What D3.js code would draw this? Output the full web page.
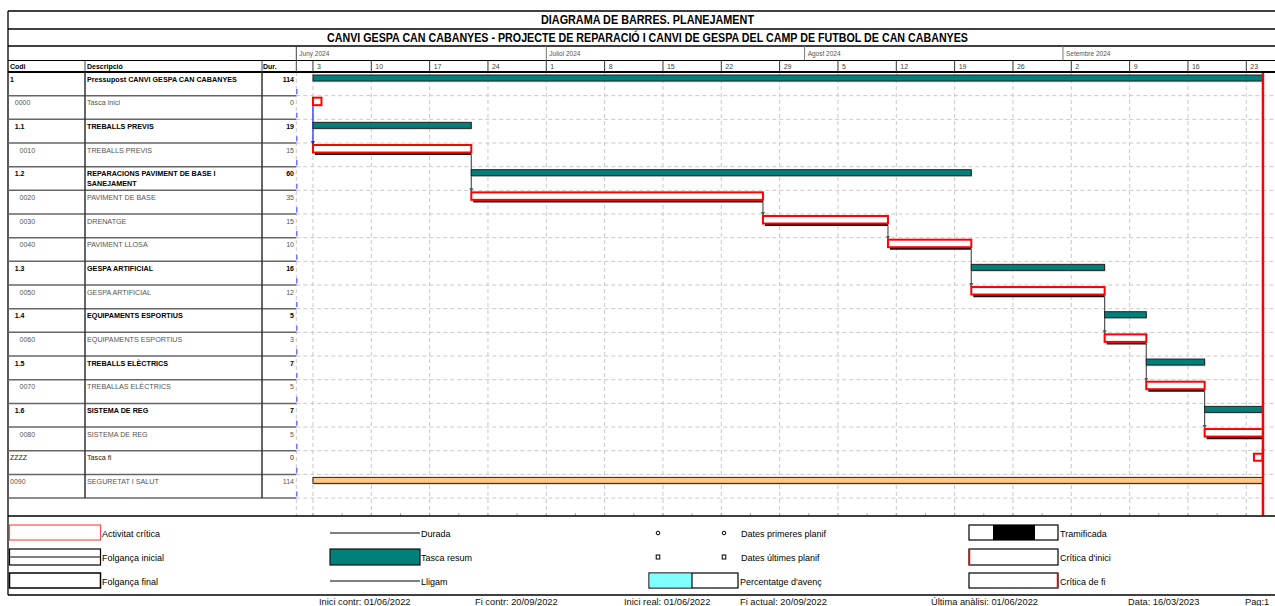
<!DOCTYPE html>
<html><head><meta charset="utf-8">
<script src="https://cdn.jsdelivr.net/npm/d3@7"></script>
<style>
body{margin:0;background:#fff}
svg{display:block}
text{font-family:"Liberation Sans",Arial,sans-serif}
</style>
</head><body>
<svg id="c" width="1275" height="606"></svg>
<script>
// ---------------- DATA ----------------
const codes = ["1","0000","1.1","0010","1.2","0020","0030","0040","1.3","0050","1.4","0060","1.5","0070","1.6","0080","ZZZZ","0090"];
const descriptions = [
  ["Pressupost CANVI GESPA CAN CABANYES"],
  ["Tasca inici"],
  ["TREBALLS PREVIS"],
  ["TREBALLS PREVIS"],
  ["REPARACIONS PAVIMENT DE BASE I","SANEJAMENT"],
  ["PAVIMENT DE BASE"],
  ["DRENATGE"],
  ["PAVIMENT LLOSA"],
  ["GESPA ARTIFICIAL"],
  ["GESPA ARTIFICIAL"],
  ["EQUIPAMENTS ESPORTIUS"],
  ["EQUIPAMENTS ESPORTIUS"],
  ["TREBALLS ELÈCTRICS"],
  ["TREBALLAS ELÈCTRICS"],
  ["SISTEMA DE REG"],
  ["SISTEMA DE REG"],
  ["Tasca fi"],
  ["SEGURETAT I SALUT"]
];
const durations = [114,0,19,15,60,35,15,10,16,12,5,3,7,5,7,5,0,114];
const kinds = ["summary","startMilestone","summary","task","summary","task","task","task","summary","task","summary","task","summary","task","summary","task","endMilestone","other"];
const outlineLevels = [0,1,1,2,1,2,2,2,1,2,1,2,1,2,1,2,0,0];
const startDates = ["2024-06-03","2024-06-03","2024-06-03","2024-06-03","2024-06-22","2024-06-22","2024-07-27","2024-08-11","2024-08-21","2024-08-21","2024-09-06","2024-09-06","2024-09-11","2024-09-11","2024-09-18","2024-09-18","2024-09-25","2024-06-03"];
const endDates   = ["2024-09-25","2024-06-03","2024-06-22","2024-06-22","2024-08-21","2024-07-27","2024-08-11","2024-08-21","2024-09-06","2024-09-06","2024-09-11","2024-09-11","2024-09-18","2024-09-18","2024-09-25","2024-09-25","2024-09-25","2024-09-25"];
const links = [[1,3],[3,5],[5,6],[6,7],[7,9],[9,11],[11,13],[13,15],[15,16]];
const monthLabels = ["Juny 2024","Juliol 2024","Agost 2024","Setembre 2024"];
const monthStarts = ["2024-06-01","2024-07-01","2024-08-01","2024-09-01"];
const weekTicks = ["2024-06-03","2024-06-10","2024-06-17","2024-06-24","2024-07-01","2024-07-08","2024-07-15","2024-07-22","2024-07-29","2024-08-05","2024-08-12","2024-08-19","2024-08-26","2024-09-02","2024-09-09","2024-09-16","2024-09-23"];
const weekLabels = ["3","10","17","24","1","8","15","22","29","5","12","19","26","2","9","16","23"];
const projectEnd = "2024-09-25";
const footerTexts = [["Inici contr: 01/06/2022",319],["Fi contr: 20/09/2022",475],["Inici real: 01/06/2022",624],["Fi actual: 20/09/2022",740],["Última anàlisi: 01/06/2022",931],["Data: 16/03/2023",1128],["Pag:1",1245]];

// ---------------- LAYOUT ----------------
const svg = d3.select("#c");
const W = 1275;
const L = 8;
const parse = d3.utcParse("%Y-%m-%d");
const chartX0 = 296.3, pxDay = 8.3333;
const x = d3.scaleUtc().domain([parse("2024-06-01"), parse("2024-09-28")]).range([chartX0, chartX0 + 119*pxDay]);
const rowTop0 = 72, rowH = 23.67, nRows = codes.length;
const yRow = d3.scaleLinear().domain([0, nRows]).range([rowTop0, rowTop0 + nRows*rowH]);
const chartBottom = 516;
const colCodeEnd = 85, colDescEnd = 262;

const g = svg.append("g");

// ---------------- GRID ----------------
const grid = g.append("g");
grid.selectAll("line.h").data(d3.range(1, nRows+1)).join("line")
  .attr("x1", chartX0).attr("x2", W)
  .attr("y1", d=>yRow(d)).attr("y2", d=>yRow(d))
  .attr("stroke","#c8c8c8").attr("stroke-dasharray","4,3").attr("stroke-width",1);
grid.selectAll("line.v").data([ "2024-06-01", ...weekTicks]).join("line")
  .attr("x1", d=>x(parse(d))).attr("x2", d=>x(parse(d)))
  .attr("y1", rowTop0).attr("y2", chartBottom)
  .attr("stroke","#c8c8c8").attr("stroke-dasharray","4,3").attr("stroke-width",1);
g.append("line").attr("x1", chartX0+0.5).attr("x2", chartX0+0.5)
  .attr("y1", rowTop0+17).attr("y2", chartBottom)
  .attr("stroke","#7070ff").attr("stroke-width",1.5).attr("stroke-dasharray","5,18.67");
const halfWeeks = [];
weekTicks.forEach(d=>{ const t=parse(d); halfWeeks.push(t); halfWeeks.push(d3.utcHour.offset(t, 84)); });
g.selectAll("line.bt").data(halfWeeks).join("line")
  .attr("x1", d=>x(d)).attr("x2", d=>x(d)).attr("y1", chartBottom-3).attr("y2", chartBottom)
  .attr("stroke","#aaa").attr("stroke-width",1);

// ---------------- HEADER ----------------
const hdr = g.append("g");
const hl = (x1,y1,x2,y2,w,c)=>hdr.append("line").attr("x1",x1).attr("y1",y1).attr("x2",x2).attr("y2",y2).attr("stroke",c||"#000").attr("stroke-width",w||1);
hl(L,11,W,11,1.3); hl(L,29,W,29,1.3); hl(L,46,W,46,1.3); hl(L,60.5,W,60.5,1); hl(L,72,W,72,2);
hl(L,11,L,595,1.3);
hl(chartX0,46,chartX0,72,1,"#444");
hl(colCodeEnd,60.5,colCodeEnd,72,1,"#444"); hl(colDescEnd,60.5,colDescEnd,72,1,"#444");
hdr.append("text").attr("x",647.5).attr("y",23.5).attr("text-anchor","middle")
  .attr("font-size",12).attr("font-weight","bold").attr("textLength",213).attr("lengthAdjust","spacingAndGlyphs")
  .text("DIAGRAMA DE BARRES. PLANEJAMENT");
hdr.append("text").attr("x",647.5).attr("y",41.5).attr("text-anchor","middle")
  .attr("font-size",12).attr("font-weight","bold").attr("textLength",641).attr("lengthAdjust","spacingAndGlyphs")
  .text("CANVI GESPA CAN CABANYES - PROJECTE DE REPARACIÓ I CANVI DE GESPA DEL CAMP DE FUTBOL DE CAN CABANYES");
monthStarts.forEach((m,i)=>{
  const mx = x(parse(m));
  if(i>0) hl(mx,46,mx,60.5,1,"#777");
  hdr.append("text").attr("x", mx+3).attr("y",56).attr("font-size",6.5).attr("fill","#555").text(monthLabels[i]);
});
weekTicks.forEach((w,i)=>{
  const wx = x(parse(w));
  hl(wx,60.5,wx,72,1,"#333");
  hdr.append("text").attr("x", wx+4).attr("y",69).attr("font-size",7).attr("fill","#444").text(weekLabels[i]);
});
[["Codi",10],["Descripció",87],["Dur.",263]].forEach(([t,tx])=>{
  hdr.append("text").attr("x",tx).attr("y",69).attr("font-size",7).attr("font-weight","bold").text(t);
});

// ---------------- TABLE ----------------
const tbl = g.append("g");
tbl.selectAll("line.r").data(d3.range(1, nRows+1)).join("line")
  .attr("x1", L).attr("x2", chartX0).attr("y1", d=>yRow(d)).attr("y2", d=>yRow(d))
  .attr("stroke","#666").attr("stroke-width",1.5);
[colCodeEnd, colDescEnd].forEach(cx=>{
  tbl.append("line").attr("x1",cx).attr("x2",cx).attr("y1",rowTop0).attr("y2",yRow(nRows))
    .attr("stroke","#333").attr("stroke-width",1.5);
});
codes.forEach((c,i)=>{
  const top = yRow(i);
  const isSum = kinds[i]==="summary" || i===0;
  const col = isSum ? "#000" : (kinds[i]==="endMilestone" ? "#222" : "#555");
  const fw = isSum ? "bold" : "normal";
  tbl.append("text").attr("x", 10 + outlineLevels[i]*4.75).attr("y", top+9.5)
    .attr("font-size",7).attr("font-weight",fw).attr("fill",col).text(c);
  descriptions[i].forEach((line,j)=>{
    tbl.append("text").attr("x",87).attr("y", top+9.5+j*10).attr("font-size",7.2)
      .attr("font-weight",fw).attr("fill",col).text(line);
  });
  tbl.append("text").attr("x",294).attr("y", top+9.5).attr("text-anchor","end")
    .attr("font-size",7).attr("font-weight",fw).attr("fill",col).text(durations[i]);
});

// ---------------- BARS ----------------
const bars = g.append("g");
const rows = codes.map((c,i)=>({i, kind:kinds[i], s:parse(startDates[i]), e:parse(endDates[i]), top:yRow(i)}));
const defs = svg.append("defs");
links.forEach(([a,b])=>{
  const ra = rows[a], rb = rows[b];
  const lx = ra.kind==="startMilestone" ? x(ra.s) : x(ra.e);
  const blue = ra.kind==="startMilestone";
  const col = blue ? "#2020ff" : "#555";
  const id = "m"+a;
  defs.append("marker").attr("id",id).attr("viewBox","0 0 6 6").attr("refX",3).attr("refY",6)
    .attr("markerWidth",5).attr("markerHeight",4).attr("orient","0").attr("markerUnits","userSpaceOnUse")
    .append("path").attr("d","M0,0L6,0L3,6Z").attr("fill",col);
  bars.append("line").attr("x1",lx).attr("x2",lx).attr("y1", ra.top + (ra.kind==="startMilestone"?10:11.5)).attr("y2", rb.top+2)
    .attr("stroke",col).attr("stroke-width",1.2).attr("marker-end",`url(#${id})`);
});
rows.forEach(r=>{
  const x0 = x(r.s), x1 = x(r.e);
  if(r.kind==="summary" || r.kind==="other"){
    bars.append("rect").attr("x",x0).attr("y",r.top+3.5).attr("width",x1-x0).attr("height",6)
      .attr("fill","#9a9a9a").attr("opacity",0.5).attr("transform","translate(0.8,0.8)");
    bars.append("rect").attr("x",x0).attr("y",r.top+3).attr("width",x1-x0).attr("height",6)
      .attr("fill", r.kind==="summary" ? "#007f7b" : "#ffc882").attr("stroke","#222").attr("stroke-width",1);
  } else if(r.kind==="task"){
    bars.append("line").attr("x1",x0+2).attr("x2",x1).attr("y1",r.top+11).attr("y2",r.top+11)
      .attr("stroke","#111").attr("stroke-width",2.2);
    bars.append("rect").attr("x",x0).attr("y",r.top+2).attr("width",x1-x0).attr("height",7.5)
      .attr("fill","#fff").attr("stroke","#ff0000").attr("stroke-width",2);
  } else if(r.kind==="startMilestone"){
    bars.append("rect").attr("x",x0).attr("y",r.top+2).attr("width",8.5).attr("height",7.5)
      .attr("fill","#fff").attr("stroke","#ff0000").attr("stroke-width",2);
  } else if(r.kind==="endMilestone"){
    bars.append("rect").attr("x",x0-9).attr("y",r.top+3).attr("width",8.5).attr("height",7)
      .attr("fill","#fff").attr("stroke","#ff0000").attr("stroke-width",2);
  }
});
const ex = x(parse(projectEnd));
g.append("line").attr("x1",ex).attr("x2",ex).attr("y1",rowTop0+1).attr("y2",chartBottom)
  .attr("stroke","#ff0000").attr("stroke-width",2.5);

// ---------------- LEGEND ----------------
const lg = g.append("g");
lg.append("line").attr("x1",L).attr("x2",W).attr("y1",chartBottom).attr("y2",chartBottom).attr("stroke","#000").attr("stroke-width",1.5);
lg.append("line").attr("x1",L).attr("x2",W).attr("y1",595).attr("y2",595).attr("stroke","#000").attr("stroke-width",1.5);
const lt = (t,tx,ty)=>lg.append("text").attr("x",tx).attr("y",ty).attr("font-size",9).attr("fill","#000").text(t);
const rr = (x0,y0,w,h,stroke,fill,sw)=>lg.append("rect").attr("x",x0).attr("y",y0).attr("width",w).attr("height",h)
  .attr("fill",fill||"#fff").attr("stroke",stroke||"#000").attr("stroke-width",sw||1.2);
const ll = (x1,y1,x2,y2,c,w)=>lg.append("line").attr("x1",x1).attr("y1",y1).attr("x2",x2).attr("y2",y2).attr("stroke",c||"#000").attr("stroke-width",w||1.2);
rr(9.5,525,91,15,"#ff5050"); lt("Activitat crítica",102,536.5);
rr(9.5,549,91,16); ll(9.5,557,100.5,557); lt("Folgança inicial",102,560.5);
rr(9.5,573,91,15,"#000","#fff",1.5); lt("Folgança final",102,584.5);
ll(330,533,420,533); lt("Durada",421,536.5);
rr(330,549,90,16,"#111","#007f7b"); lt("Tasca resum",421,560.5);
ll(330,581,420,581); lt("Lligam",421,584.5);
[658,724].forEach(cx=>{
  lg.append("circle").attr("cx",cx).attr("cy",533).attr("r",1.8).attr("fill","#fff").attr("stroke","#000").attr("stroke-width",1);
  lg.append("rect").attr("x",cx-1.8).attr("y",555).attr("width",3.6).attr("height",4).attr("fill","#fff").attr("stroke","#000").attr("stroke-width",1);
});
lt("Dates primeres planif",741,536.5); lt("Dates últimes planif",741,560.5);
rr(649,573,89,15); lg.append("rect").attr("x",649.6).attr("y",573.6).attr("width",42).attr("height",13.8).attr("fill","#80ffff");
ll(692,573,692,588); lt("Percentatge d'avenç",740,584.5);
rr(969,525,89,15); lg.append("rect").attr("x",993).attr("y",525).attr("width",42).attr("height",15).attr("fill","#000");
lt("Tramificada",1060,536.5);
rr(969,549,89,16); ll(969.5,549,969.5,565,"#ff0000",1.5); lt("Crítica d'inici",1060,560.5);
rr(969,573,89,15); ll(1057.5,573,1057.5,588,"#ff0000",1.5); lt("Crítica de fi",1060,584.5);

// ---------------- FOOTER ----------------
footerTexts.forEach(([t,tx])=>{
  g.append("text").attr("x",tx).attr("y",605).attr("font-size",9.3).attr("fill","#111").text(t);
});
</script>
</body></html>
